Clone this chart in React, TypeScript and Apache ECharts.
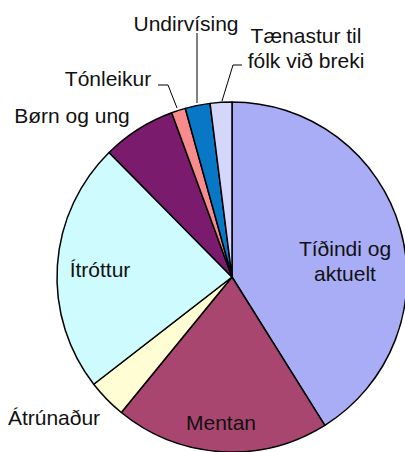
import React, { useEffect, useRef } from "react";
import * as echarts from "echarts";

const categories = [
  "Tíðindi og\naktuelt",
  "Mentan",
  "Átrúnaður",
  "Ítróttur",
  "Børn og ung",
  "Tónleikur",
  "Undirvísing",
  "Tænastur til\nfólk við breki",
];
const values = [41.1, 19.8, 3.6, 23.1, 6.8, 1.3, 2.3, 2.0];
const colors = [
  "#A9ADF6",
  "#A8466F",
  "#FFFDD4",
  "#CEFBFE",
  "#7A1B6E",
  "#F88C8C",
  "#0877C6",
  "#D5D6FB",
];
const insideLabel = [true, true, false, true, false, false, false, false];

// label anchor positions (layout only)
const labelPos: [number, number][] = [
  [345, 261],
  [221, 422],
  [54, 417],
  [100, 269],
  [72, 115],
  [108, 78],
  [186, 23],
  [306, 48],
];
const linePts: ([number, number][] | null)[] = [
  null,
  null,
  null,
  null,
  null,
  [[158, 85], [168, 85], [177, 108]],
  [[197, 33], [197, 103]],
  [[242, 65], [233, 65], [222, 101]],
];

export default function App() {
  const ref = useRef<HTMLDivElement>(null);
  useEffect(() => {
    document.body.style.margin = "0";
    const chart = echarts.init(ref.current!, null, { renderer: "svg" });
    chart.setOption({
      animation: false,
      backgroundColor: "#ffffff",
      series: [
        {
          type: "pie",
          center: [232, 277],
          radius: [0, 175],
          startAngle: 90,
          clockwise: true,
          avoidLabelOverlap: false,
          itemStyle: { borderColor: "#000", borderWidth: 1.5 },
          label: {
            fontFamily: "Liberation Sans, Arial, sans-serif",
            fontSize: 21,
            lineHeight: 25,
            color: "#111",
            formatter: "{b}",
          },
          labelLine: { lineStyle: { color: "#000", width: 1 } },
          labelLayout: (p: any) => {
            const i = p.dataIndex;
            const res: any = {
              x: labelPos[i][0],
              y: labelPos[i][1],
              align: "center",
              verticalAlign: "middle",
            };
            if (linePts[i]) res.labelLinePoints = linePts[i];
            return res;
          },
          data: categories.map((name, i) => ({
            name,
            value: values[i],
            itemStyle: { color: colors[i] },
            label: { position: insideLabel[i] ? "inside" : "outside" },
            labelLine: { show: !!linePts[i] },
          })),
        },
      ],
    });
    return () => chart.dispose();
  }, []);
  return (
    <div
      ref={ref}
      style={{ position: "absolute", left: 0, top: 0, width: 405, height: 452 }}
    />
  );
}
